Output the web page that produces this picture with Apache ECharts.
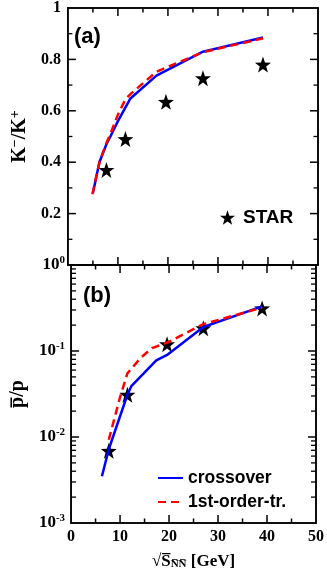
<!DOCTYPE html>
<html>
<head>
<meta charset="utf-8">
<script src="https://cdn.jsdelivr.net/npm/echarts@6/dist/echarts.min.js"></script>
<style>
  html, body { margin: 0; padding: 0; background: #fff; }
  #chart { width: 327px; height: 574px; }
</style>
</head>
<body>
<div id="chart"></div>
<script>
// panel (a): K-/K+ ratio
const starKK = [[7.7, 0.37], [11.5, 0.49], [19.6, 0.635], [27, 0.727], [39, 0.78]];
const crossKK = [[5, 0.28], [6.3, 0.4], [7.7, 0.47], [8.5, 0.5], [10, 0.56], [12.5, 0.648], [17.7, 0.737], [27, 0.83], [39, 0.885]];
const firstKK = [[4.9, 0.275], [6.3, 0.4], [7.7, 0.475], [8.5, 0.51], [10, 0.585], [11.5, 0.645], [12.5, 0.665], [17.7, 0.752], [27, 0.828], [39, 0.882]];

// panel (b): pbar/p ratio (log scale)
const starPP = [[7.7, 0.0069], [11.5, 0.031], [19.6, 0.12], [27, 0.184], [39, 0.313]];
const crossPP = [[6.3, 0.0035], [7.7, 0.0072], [11.5, 0.031], [12.3, 0.039], [17.4, 0.078], [19.6, 0.09], [27, 0.19], [39, 0.33]];
const firstPP = [[7.7, 0.0093], [10, 0.029], [11.5, 0.055], [14.2, 0.083], [16.5, 0.108], [19.6, 0.125], [27, 0.205], [39, 0.32]];

// tick positions (inward ticks on all sides)
const xMajor = [10, 20, 30, 40];
const xMinor = [5, 15, 25, 35, 45];
const yaMajor = [0.2, 0.4, 0.6, 0.8];
const yaMinor = [0.1, 0.3, 0.5, 0.7, 0.9];
const ybMajor = [0.01, 0.1];
const ybMinor = [];
[0.001, 0.01, 0.1].forEach(function (d) {
  for (let k = 2; k <= 9; k++) ybMinor.push(k * d);
});

const STAR = 'path://M0,-10L2.35,-3.24L9.51,-3.09L3.8,1.24L5.88,8.09L0,4L-5.88,8.09L-3.8,1.24L-9.51,-3.09L-2.35,-3.24Z';

const serif = 'Liberation Serif';
const sans = 'Liberation Sans';
const black = '#000';

const grids = [
  { left: 60, top: 8, width: 258, height: 257, show: true, borderColor: black, borderWidth: 1.5, backgroundColor: 'transparent' },
  { left: 60, top: 265, width: 258, height: 258, show: true, borderColor: black, borderWidth: 1.5, backgroundColor: 'transparent' }
];

function xAx(grid, showLabel) {
  return {
    type: 'value', gridIndex: grid, min: 0, max: 50, interval: 10,
    axisLine: { show: false },
    axisTick: { show: false },
    splitLine: { show: false },
    axisLabel: { show: showLabel, margin: 6, color: black, fontFamily: serif, fontWeight: 'bold', fontSize: 16 }
  };
}

const option = {
  animation: false,
  backgroundColor: '#fff',
  grid: grids,
  xAxis: [
    xAx(0, false),
    Object.assign(xAx(1, true), {
      name: '{r|√}{s|S̅}{n|N̅N̅}{g| [GeV]}',
      nameLocation: 'middle', nameGap: 30,
      nameTextStyle: {
        rich: {
          r: { fontFamily: serif, fontSize: 17, color: black },
          s: { fontFamily: serif, fontWeight: 'bold', fontSize: 17, color: black },
          n: { fontFamily: serif, fontWeight: 'bold', fontSize: 11, color: black, padding: [6, 0, 0, 0] },
          g: { fontFamily: serif, fontWeight: 'bold', fontSize: 17, color: black }
        }
      }
    })
  ],
  yAxis: [
    {
      type: 'value', gridIndex: 0, min: 0, max: 1, interval: 0.2,
      axisLine: { show: false }, axisTick: { show: false }, splitLine: { show: false },
      axisLabel: { showMinLabel: false, margin: 7, color: black, fontFamily: serif, fontWeight: 'bold', fontSize: 16 },
      name: '{b|K}{s|−}{b|/K}{s|+}',
      nameLocation: 'middle', nameRotate: 90, nameGap: 34,
      nameTextStyle: {
        rich: {
          b: { fontFamily: serif, fontWeight: 'bold', fontSize: 20, color: black },
          s: { fontFamily: serif, fontWeight: 'bold', fontSize: 14, color: black, padding: [0, 0, 10, 0] }
        }
      }
    },
    {
      type: 'log', gridIndex: 1, min: 0.001, max: 1, logBase: 10,
      axisLine: { show: false }, axisTick: { show: false }, splitLine: { show: false },
      axisLabel: {
        margin: 6,
        formatter: function (v) {
          return '{b|10}{s|' + Math.round(Math.log10(v)) + '}';
        },
        rich: {
          b: { fontFamily: serif, fontWeight: 'bold', fontSize: 17, color: black },
          s: { fontFamily: serif, fontWeight: 'bold', fontSize: 11, color: black, padding: [0, 0, 9, 0] }
        }
      },
      name: 'p̅/p',
      nameLocation: 'middle', nameRotate: 90, nameGap: 38,
      nameTextStyle: { fontFamily: serif, fontWeight: 'bold', fontSize: 20, color: black }
    }
  ],
  legend: [
    {
      left: 215, top: 203, itemWidth: 15, itemHeight: 15, itemGap: 4,
      data: [{ name: 'STAR', icon: STAR }],
      itemStyle: { color: black, opacity: 1 },
      textStyle: { fontFamily: sans, fontWeight: 'bold', fontSize: 19, color: black, padding: [0, 0, 0, 3] }
    },
    {
      orient: 'vertical', left: 152, top: 464, itemWidth: 25, itemHeight: 14, itemGap: 6,
      data: ['crossover', '1st-order-tr.'],
      itemStyle: { opacity: 0 },
      textStyle: { fontFamily: sans, fontWeight: 'bold', fontSize: 17.5, color: black }
    }
  ],
  series: [
    {
      name: 'crossover', type: 'line', xAxisIndex: 0, yAxisIndex: 0, data: crossKK,
      symbol: 'none', lineStyle: { color: '#0000ff', width: 2.5 }, itemStyle: { color: '#0000ff' }
    },
    {
      name: '1st-order-tr.', type: 'line', xAxisIndex: 0, yAxisIndex: 0, data: firstKK,
      symbol: 'none', lineStyle: { color: '#ff0000', width: 2.5, type: [8, 5] }, itemStyle: { color: '#ff0000' }
    },
    {
      name: 'STAR', type: 'scatter', xAxisIndex: 0, yAxisIndex: 0, data: starKK,
      symbol: STAR, symbolSize: 16, itemStyle: { color: black, opacity: 1 }
    },
    {
      name: 'crossover', type: 'line', xAxisIndex: 1, yAxisIndex: 1, data: crossPP,
      symbol: 'none', lineStyle: { color: '#0000ff', width: 2.5 }, itemStyle: { color: '#0000ff' }
    },
    {
      name: '1st-order-tr.', type: 'line', xAxisIndex: 1, yAxisIndex: 1, data: firstPP,
      symbol: 'none', lineStyle: { color: '#ff0000', width: 2.5, type: [8, 5] }, itemStyle: { color: '#ff0000' }
    },
    {
      name: 'STAR', type: 'scatter', xAxisIndex: 1, yAxisIndex: 1, data: starPP,
      symbol: STAR, symbolSize: 16, itemStyle: { color: black, opacity: 1 }
    }
  ]
};

const chart = echarts.init(document.getElementById('chart'), null, { renderer: 'canvas' });
chart.setOption(option);

// pixel position through the grid's coordinate system; falls back to the grid box if that fails
function toPx(g, xv, yv) {
  let r = null;
  try { r = chart.convertToPixel({ gridIndex: g }, [xv, yv]); } catch (e) { r = null; }
  if (r && isFinite(r[0]) && isFinite(r[1])) return r;
  const b = grids[g];
  const fy = g === 0 ? yv : (Math.log10(yv) + 3) / 3;
  return [b.left + b.width * xv / 50, b.top + b.height * (1 - fy)];
}

const deco = [];
function bar(x, y, w, h) {
  deco.push({ type: 'rect', z: 50, shape: { x: x, y: y, width: w, height: h }, style: { fill: black } });
}
const W = 1.5;
const panels = [
  { g: 0, yMin: 0, yMax: 1, yMid: 0.5, yMajor: yaMajor, yMinor: yaMinor, minorLen: 4.5 },
  { g: 1, yMin: 0.001, yMax: 1, yMid: 0.03, yMajor: ybMajor, yMinor: ybMinor, minorLen: 5 }
];
panels.forEach(function (p) {
  const lt = toPx(p.g, 0, p.yMax), rb = toPx(p.g, 50, p.yMin);
  const L = lt[0], T = lt[1], R = rb[0], B = rb[1];
  bar(L - W / 2, T - W / 2, R - L + W, W);
  bar(L - W / 2, B - W / 2, R - L + W, W);
  bar(L - W / 2, T - W / 2, W, B - T + W);
  bar(R - W / 2, T - W / 2, W, B - T + W);
  xMajor.forEach(function (v) { const X = toPx(p.g, v, p.yMid)[0]; bar(X - W / 2, B - 8, W, 8); bar(X - W / 2, T, W, 8); });
  xMinor.forEach(function (v) { const X = toPx(p.g, v, p.yMid)[0]; bar(X - W / 2, B - 4.5, W, 4.5); bar(X - W / 2, T, W, 4.5); });
  p.yMajor.forEach(function (v) { const Y = toPx(p.g, 25, v)[1]; bar(L, Y - W / 2, 8, W); bar(R - 8, Y - W / 2, 8, W); });
  p.yMinor.forEach(function (v) { const Y = toPx(p.g, 25, v)[1]; bar(L, Y - 0.65, p.minorLen, 1.3); bar(R - p.minorLen, Y - 0.65, p.minorLen, 1.3); });
});
deco.push({ type: 'text', left: 74, top: 26, style: { text: '(a)', fontFamily: sans, fontWeight: 'bold', fontSize: 22, fill: black } });
deco.push({ type: 'text', left: 83, top: 285, style: { text: '(b)', fontFamily: sans, fontWeight: 'bold', fontSize: 22, fill: black } });
chart.setOption({ graphic: deco });
</script>
</body>
</html>
